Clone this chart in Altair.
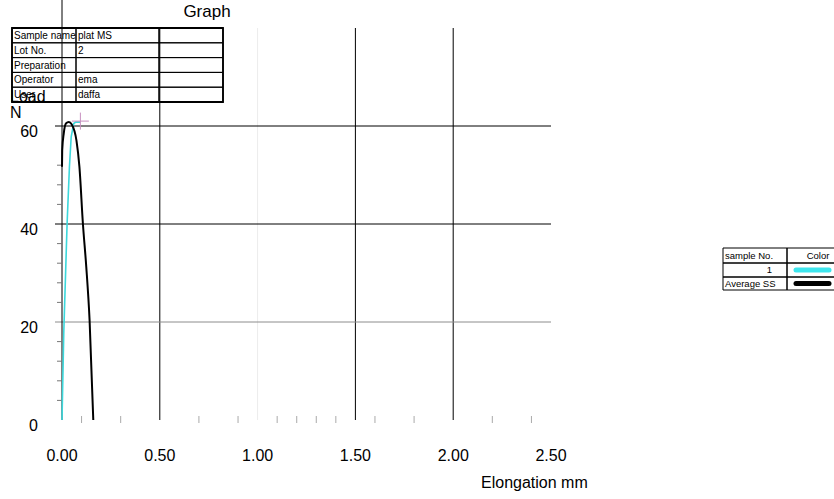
import altair as alt
import pandas as pd

# ---------------- data ----------------
cyan_x = [0.0, 0.009, 0.026, 0.038, 0.047, 0.060, 0.070, 0.094]
cyan_y = [0.0, 17.7, 40.0, 51.7, 57.8, 60.5, 60.8, 60.8]

avg_x = [0.0, 0.001, 0.009, 0.02, 0.035, 0.05, 0.074, 0.089, 0.107, 0.124, 0.141, 0.16]
avg_y = [51.7, 55.0, 58.5, 60.5, 60.8, 60.3, 57.0, 51.7, 40.0, 31.3, 20.4, 0.0]

peak_x = [0.094]
peak_y = [61.0]

x_tick_vals = [0.0, 0.5, 1.0, 1.5, 2.0, 2.5]
x_tick_text = ["0.00", "0.50", "1.00", "1.50", "2.00", "2.50"]
y_tick_vals = [0, 20, 40, 60]
h_grid_vals = [20, 40, 60]
h_grid_cols = ["#8c8c8c", "#000000", "#000000"]
v_grid_vals = [0.5, 1.0, 1.5, 2.0]
v_grid_cols = ["#000000", "#ececec", "#000000", "#000000"]
y_minor = [4, 8, 12, 16, 24, 28, 32, 36, 44, 48, 52]
x_minor = [0.1, 0.3, 0.7, 0.9, 1.1, 1.2, 1.3, 1.4, 1.6, 1.8, 2.2, 2.4]

info_labels = ["Sample name", "Lot No.", "Preparation", "Operator", "User"]
info_values = ["plat MS", "2", "", "ema", "daffa"]

legend_names = ["1", "Average SS"]
legend_colors = ["#3ee6ee", "#000000"]

# ---------------- layout ----------------
W, H = 489, 392
PADL, PADT = 62, 28
FONT = "Liberation Sans"

xs = alt.Scale(domain=[0, 2.5], nice=False, zero=False)
ys = alt.Scale(domain=[0, 80], nice=False)

# grids
hg = pd.DataFrame({"y": h_grid_vals, "c": h_grid_cols})
hgrid = alt.Chart(hg).mark_rule(strokeWidth=1).encode(
    y=alt.Y("y:Q", scale=ys, axis=None), x=alt.value(-7), x2=alt.value(W),
    color=alt.Color("c:N", scale=None))

vg = pd.DataFrame({"x": v_grid_vals, "c": v_grid_cols})
vgrid = alt.Chart(vg).mark_rule(strokeWidth=1).encode(
    x=alt.X("x:Q", scale=xs, axis=None), y=alt.value(0), y2=alt.value(H),
    color=alt.Color("c:N", scale=None))

axis_line = alt.Chart(pd.DataFrame({"x": [0.0]})).mark_rule(color="#000", strokeWidth=1).encode(
    x=alt.X("x:Q", scale=xs, axis=None), y=alt.value(-PADT), y2=alt.value(H))

yminor = alt.Chart(pd.DataFrame({"y": y_minor})).mark_rule(color="#777", strokeWidth=1).encode(
    y=alt.Y("y:Q", scale=ys, axis=None), x=alt.value(-5), x2=alt.value(0))

xminor = alt.Chart(pd.DataFrame({"x": x_minor})).mark_rule(color="#aaa", strokeWidth=1).encode(
    x=alt.X("x:Q", scale=xs, axis=None), y=alt.value(H - 4), y2=alt.value(H + 3))

# tick labels
xl = alt.Chart(pd.DataFrame({"x": x_tick_vals, "t": x_tick_text})).mark_text(
    align="center", baseline="middle", fontSize=16, font=FONT, color="#000").encode(
    x=alt.X("x:Q", scale=xs, axis=None), y=alt.value(H + 36), text="t:N")
yl = alt.Chart(pd.DataFrame({"y": y_tick_vals})).mark_text(
    align="right", baseline="middle", fontSize=16, font=FONT, color="#000", dy=6).encode(
    y=alt.Y("y:Q", scale=ys, axis=None), x=alt.value(-24), text="y:Q")

# curves
cdf = pd.DataFrame({"x": cyan_x, "y": cyan_y, "o": list(range(len(cyan_x)))})
cyan = alt.Chart(cdf).mark_line(color="#3cd8dc", strokeWidth=1.6).encode(
    x=alt.X("x:Q", scale=xs, axis=None), y=alt.Y("y:Q", scale=ys, axis=None), order="o:Q")

adf = pd.DataFrame({"x": avg_x, "y": avg_y, "o": list(range(len(avg_x)))})
avg = alt.Chart(adf).mark_line(color="#000", strokeWidth=2, interpolate="monotone").encode(
    x=alt.X("x:Q", scale=xs, axis=None), y=alt.Y("y:Q", scale=ys, axis=None), order="o:Q")

peak = alt.Chart(pd.DataFrame({"x": peak_x, "y": peak_y})).mark_point(
    shape="M-1,0L1,0M0,-1L0,1", size=289, stroke="#c890c0", strokeWidth=1, filled=False,
    opacity=1).encode(
    x=alt.X("x:Q", scale=xs, axis=None), y=alt.Y("y:Q", scale=ys, axis=None))

# texts
def label(txt, px, py, size=16, align="left"):
    return alt.Chart(pd.DataFrame({"t": [txt]})).mark_text(
        align=align, baseline="middle", fontSize=size, font=FONT, color="#000").encode(
        text="t:N", x=alt.value(px), y=alt.value(py))

title = label("Graph", 145, -16, 17, "center")
load_t = label("Load", -52, 69, 16)
n_t = label("N", -52, 85, 16)
elong = label("Elongation mm", 419, 455, 16)
bottom = label("Testing   Result", 123, 478, 16)

# info table
row_h = 14.8
cols = [-50, 14, 97, 161]
cells = []
texts = []
for i, (lab, val) in enumerate(zip(info_labels, info_values)):
    y0 = i * row_h
    for j in range(3):
        cells.append({"x0": cols[j], "x1": cols[j + 1], "y0": y0, "y1": y0 + row_h})
    texts.append({"x": cols[0] + 2, "y": y0 + row_h / 2 + 0.5, "t": lab})
    texts.append({"x": cols[1] + 2, "y": y0 + row_h / 2 + 0.5, "t": val})
cell_df = pd.DataFrame(cells)
tbl_cells = alt.Chart(cell_df).mark_rect(fillOpacity=0, stroke="#000", strokeWidth=1).encode(
    x=alt.X("x0:Q", scale=None), x2="x1:Q", y=alt.Y("y0:Q", scale=None), y2="y1:Q")
outer = alt.Chart(pd.DataFrame([{"x0": cols[0], "x1": cols[-1], "y0": 0,
                                 "y1": row_h * len(info_labels)}])).mark_rect(
    fillOpacity=0, stroke="#000", strokeWidth=1.8).encode(
    x=alt.X("x0:Q", scale=None), x2="x1:Q", y=alt.Y("y0:Q", scale=None), y2="y1:Q")
tbl_text = alt.Chart(pd.DataFrame(texts)).mark_text(
    align="left", baseline="middle", fontSize=10, font=FONT, color="#000").encode(
    x=alt.X("x:Q", scale=None), y=alt.Y("y:Q", scale=None), text="t:N")

# legend table
lcols = [661, 725, 787]
lrows = [220, 235, 249, 262]
lcells = []
for r in range(3):
    for c in range(2):
        lcells.append({"x0": lcols[c], "x1": lcols[c + 1], "y0": lrows[r], "y1": lrows[r + 1]})
leg_cells = alt.Chart(pd.DataFrame(lcells)).mark_rect(fillOpacity=0, stroke="#000", strokeWidth=1).encode(
    x=alt.X("x0:Q", scale=None), x2="x1:Q", y=alt.Y("y0:Q", scale=None), y2="y1:Q")
ltexts = pd.DataFrame([
    {"x": lcols[0] + 2, "y": (lrows[0] + lrows[1]) / 2, "t": "sample No.", "a": "left"},
    {"x": 756, "y": (lrows[0] + lrows[1]) / 2, "t": "Color", "a": "center"},
    {"x": lcols[1] - 15, "y": (lrows[1] + lrows[2]) / 2, "t": legend_names[0], "a": "right"},
    {"x": lcols[0] + 2, "y": (lrows[2] + lrows[3]) / 2, "t": legend_names[1], "a": "left"},
])
leg_text_l = alt.Chart(ltexts[ltexts.a == "left"]).mark_text(
    align="left", baseline="middle", fontSize=9.5, font=FONT, color="#000").encode(
    x=alt.X("x:Q", scale=None), y=alt.Y("y:Q", scale=None), text="t:N")
leg_text_c = alt.Chart(ltexts[ltexts.a == "center"]).mark_text(
    align="center", baseline="middle", fontSize=9.5, font=FONT, color="#000").encode(
    x=alt.X("x:Q", scale=None), y=alt.Y("y:Q", scale=None), text="t:N")
leg_text_r = alt.Chart(ltexts[ltexts.a == "right"]).mark_text(
    align="right", baseline="middle", fontSize=9.5, font=FONT, color="#000").encode(
    x=alt.X("x:Q", scale=None), y=alt.Y("y:Q", scale=None), text="t:N")
sw = pd.DataFrame({"x0": [734, 734], "x1": [767, 767],
                   "y": [(lrows[1] + lrows[2]) / 2, (lrows[2] + lrows[3]) / 2],
                   "c": legend_colors})
swatch = alt.Chart(sw).mark_rule(strokeWidth=5, strokeCap="round").encode(
    x=alt.X("x0:Q", scale=None), x2="x1:Q", y=alt.Y("y:Q", scale=None),
    color=alt.Color("c:N", scale=None))

chart = alt.layer(
    vgrid, hgrid, axis_line, yminor, xminor, xl, yl,
    cyan, avg, peak,
    load_t, tbl_cells, outer, tbl_text, title, n_t, elong, bottom,
    leg_cells, leg_text_l, leg_text_c, leg_text_r, swatch,
).properties(
    width=W, height=H,
    background="white",
    autosize=alt.AutoSizeParams(type="none"),
    padding={"left": PADL, "top": PADT, "right": 834 - PADL - W, "bottom": 499 - PADT - H},
).configure_view(stroke=None)

chart.save("out.html", embed_options={"renderer": "svg", "actions": False})
